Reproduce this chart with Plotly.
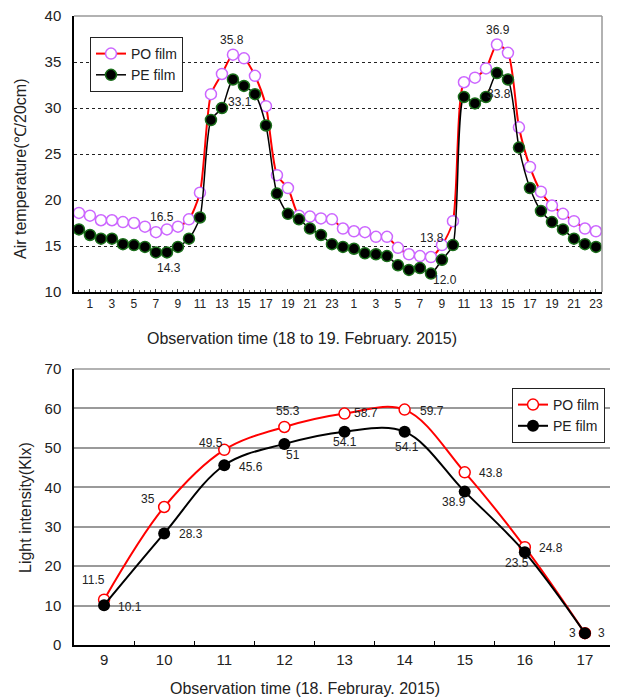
import plotly.graph_objects as go

# ---------------- data ----------------
hours = list(range(24)) * 2  # 18 Feb 0..23, 19 Feb 0..23
po_air = [18.6, 18.3, 17.8, 17.8, 17.6, 17.5, 17.1, 16.5, 16.8, 17.1, 17.9, 20.8,
          31.5, 33.7, 35.8, 35.4, 33.5, 30.2, 22.7, 21.3, 18.3, 18.2, 18.0, 17.9,
          16.9, 16.6, 16.5, 16.0, 16.0, 14.8, 14.1, 13.9, 13.8, 15.1, 17.7, 32.8,
          33.3, 34.3, 36.9, 36.0, 27.9, 23.6, 20.9, 19.4, 18.5, 17.7, 16.9, 16.6]
pe_air = [16.8, 16.2, 15.8, 15.8, 15.2, 15.1, 14.9, 14.3, 14.3, 14.9, 15.8, 18.1,
          28.7, 30.0, 33.1, 32.4, 31.5, 28.1, 20.7, 18.5, 17.9, 16.9, 16.2, 15.2,
          14.9, 14.7, 14.2, 14.1, 13.9, 12.9, 12.4, 12.6, 12.0, 13.5, 15.1, 31.2,
          30.5, 31.2, 33.8, 33.1, 25.7, 21.3, 18.8, 17.6, 16.8, 15.8, 15.2, 14.9]

light_hours = ["9", "10", "11", "12", "13", "14", "15", "16", "17"]
po_light = [11.5, 35, 49.5, 55.3, 58.7, 59.7, 43.8, 24.8, 3]
pe_light = [10.1, 28.3, 45.6, 51, 54.1, 54.1, 38.9, 23.5, 3]

# labelled points on the air-temperature chart (series, index)
air_labels_po = [7, 14, 32, 38]
air_labels_pe = [8, 14, 32, 38]

# ---------------- styling / positions ----------------
PAGE_W, PAGE_H = 618, 698
BODY = 8  # default page body margin in the browser
W, H = PAGE_W - BODY, PAGE_H - BODY
FONT = "Liberation Sans"
x_idx = list(range(len(hours)))

fig = go.Figure()

# ---- top chart ----
fig.add_trace(go.Scatter(
    x=x_idx, y=po_air, name="PO film", mode="lines+markers",
    line=dict(color="#ff0000", width=2, shape="spline", smoothing=0.7),
    marker=dict(symbol="circle", size=11, color="white",
                line=dict(color="#cc66ff", width=1.5)),
    xaxis="x", yaxis="y", legend="legend"))
fig.add_trace(go.Scatter(
    x=x_idx, y=pe_air, name="PE film", mode="lines+markers",
    line=dict(color="#000000", width=1.5, shape="spline", smoothing=0.7),
    marker=dict(symbol="circle", size=11, color="black",
                line=dict(color="#1a6e1a", width=1.5)),
    xaxis="x", yaxis="y", legend="legend"))

# ---- bottom chart ----
fig.add_trace(go.Scatter(
    x=light_hours, y=po_light, name="PO film", mode="lines+markers",
    line=dict(color="#ff0000", width=2, shape="spline", smoothing=1),
    marker=dict(symbol="circle", size=11, color="white",
                line=dict(color="#ff0000", width=1.5)),
    xaxis="x2", yaxis="y2", legend="legend2"))
fig.add_trace(go.Scatter(
    x=light_hours, y=pe_light, name="PE film", mode="lines+markers",
    line=dict(color="#000000", width=2, shape="spline", smoothing=1),
    marker=dict(symbol="circle", size=12, color="black"),
    xaxis="x2", yaxis="y2", legend="legend2"))

def px_x(p):
    return (p - BODY) / W

def px_y(p):
    return 1 - (p - BODY) / H

top_dom_x = [px_x(74), px_x(602)]
top_dom_y = [px_y(292), px_y(16)]
bot_dom_x = [px_x(74), px_x(615)]
bot_dom_y = [px_y(645), px_y(369)]

tick_pos = [i for i in x_idx if i % 2 == 1]
tick_txt = [str(hours[i]) for i in tick_pos]
minor_pos = [i * 0.5 for i in range(0, 96)]

fig.update_layout(
    width=W, height=H,
    margin=dict(l=0, r=0, t=0, b=0, pad=0, autoexpand=False),
    paper_bgcolor="white", plot_bgcolor="white",
    font=dict(family=FONT, color="#222", size=13),
    xaxis=dict(domain=top_dom_x, anchor="y", range=[-0.45, 47.55], automargin=False,
               tickmode="array", tickvals=tick_pos, ticktext=tick_txt,
               ticks="inside", ticklen=3, tickcolor="#444",
               minor=dict(tickvals=minor_pos, ticks="inside", ticklen=2, tickcolor="#666"),
               showline=True, linecolor="black", linewidth=1.5,
               showgrid=False, zeroline=False,
               tickfont=dict(size=12, family=FONT, color="#222")),
    yaxis=dict(domain=top_dom_y, anchor="x", range=[10, 40], dtick=5, automargin=False,
               showline=True, linecolor="black", linewidth=1.5,
               showgrid=True, gridcolor="#222", griddash="dot", gridwidth=1,
               zeroline=False, ticks="", ticklabelstandoff=8, ticklabeloverflow="allow",
               tickfont=dict(size=15, family=FONT, color="#222")),
    xaxis2=dict(domain=bot_dom_x, anchor="y2", type="category", automargin=False,
                range=[-0.5, 8.5], tickson="boundaries",
                ticks="inside", ticklen=4, tickcolor="black",
                showline=True, linecolor="black", linewidth=1.5,
                showgrid=False, zeroline=False,
                tickfont=dict(size=15, family=FONT, color="#222")),
    yaxis2=dict(domain=bot_dom_y, anchor="x2", range=[0, 70], dtick=10, automargin=False,
                showline=True, linecolor="black", linewidth=1.5,
                showgrid=True, gridcolor="#9a9a9a", gridwidth=1.5,
                zeroline=False, ticks="", ticklabelstandoff=8, ticklabeloverflow="allow",
                tickfont=dict(size=15, family=FONT, color="#222")),
    legend=dict(x=px_x(90), y=px_y(37), xanchor="left", yanchor="top",
                bordercolor="#222", borderwidth=1, bgcolor="white",
                font=dict(size=14, family=FONT, color="#222"),
                itemwidth=30, tracegroupgap=0),
    legend2=dict(x=px_x(512), y=px_y(388), xanchor="left", yanchor="top",
                 bordercolor="#222", borderwidth=1, bgcolor="white",
                 font=dict(size=14, family=FONT, color="#222"),
                 itemwidth=30, tracegroupgap=0),
    showlegend=True,
)

# gray top/right borders of both plot areas
for xr, yr in (("x", "y"), ("x2", "y2")):
    fig.add_shape(type="line", xref=f"{xr} domain", yref=f"{yr} domain",
                  x0=0, x1=1, y0=1, y1=1, line=dict(color="#999", width=1.5), layer="above")
    fig.add_shape(type="line", xref=f"{xr} domain", yref=f"{yr} domain",
                  x0=1, x1=1, y0=0, y1=1, line=dict(color="#999", width=1.5), layer="above")

anns = []
lab_font = dict(size=12, family=FONT, color="#222")

# top chart data labels (pixel offsets from the point)
po_air_shift = {7: (6, 15), 14: (-1, 15), 32: (1, 19), 38: (1, 15)}
pe_air_shift = {8: (2, -16), 14: (7, -23), 32: (14, -6), 38: (2, -21)}
for i in air_labels_po:
    dx, dy = po_air_shift[i]
    anns.append(dict(x=i, y=po_air[i], xref="x", yref="y", text=f"{po_air[i]:.1f}",
                     showarrow=False, xshift=dx, yshift=dy, font=lab_font))
for i in air_labels_pe:
    dx, dy = pe_air_shift[i]
    anns.append(dict(x=i, y=pe_air[i], xref="x", yref="y", text=f"{pe_air[i]:.1f}",
                     showarrow=False, xshift=dx, yshift=dy, font=lab_font))

# bottom chart data labels
po_light_shift = [(-11, 20), (-16, 8), (-13, 7), (4, 16), (21, 1), (27, -1), (26, -1), (26, -1), (17, 0)]
pe_light_shift = [(26, -2), (27, -1), (27, -2), (9, -11), (0, -10), (2, -15), (-11, -10), (-8, -11), (-12, 0)]
for i, v in enumerate(po_light):
    dx, dy = po_light_shift[i]
    anns.append(dict(x=i, y=v, xref="x2", yref="y2", text=f"{v:g}", showarrow=False,
                     xshift=dx, yshift=dy, font=lab_font))
for i, v in enumerate(pe_light):
    dx, dy = pe_light_shift[i]
    anns.append(dict(x=i, y=v, xref="x2", yref="y2", text=f"{v:g}", showarrow=False,
                     xshift=dx, yshift=dy, font=lab_font))

# axis titles
title_font = dict(size=16, family=FONT, color="#222")
anns.append(dict(x=px_x(302), y=px_y(338), xref="paper", yref="paper",
                 text="Observation time (18 to 19. February. 2015)", showarrow=False,
                 font=title_font, xanchor="center", yanchor="middle"))
anns.append(dict(x=px_x(20), y=px_y(169), xref="paper", yref="paper",
                 text="Air temperature(℃/20cm)", showarrow=False, textangle=-90,
                 font=title_font, xanchor="center", yanchor="middle"))
anns.append(dict(x=px_x(305), y=px_y(688), xref="paper", yref="paper",
                 text="Observation time (18. Februray. 2015)", showarrow=False,
                 font=title_font, xanchor="center", yanchor="middle"))
anns.append(dict(x=px_x(25), y=px_y(508), xref="paper", yref="paper",
                 text="Light intensity(Klx)", showarrow=False, textangle=-90,
                 font=title_font, xanchor="center", yanchor="middle"))

fig.update_layout(annotations=anns)

fig.write_html("out.html")
